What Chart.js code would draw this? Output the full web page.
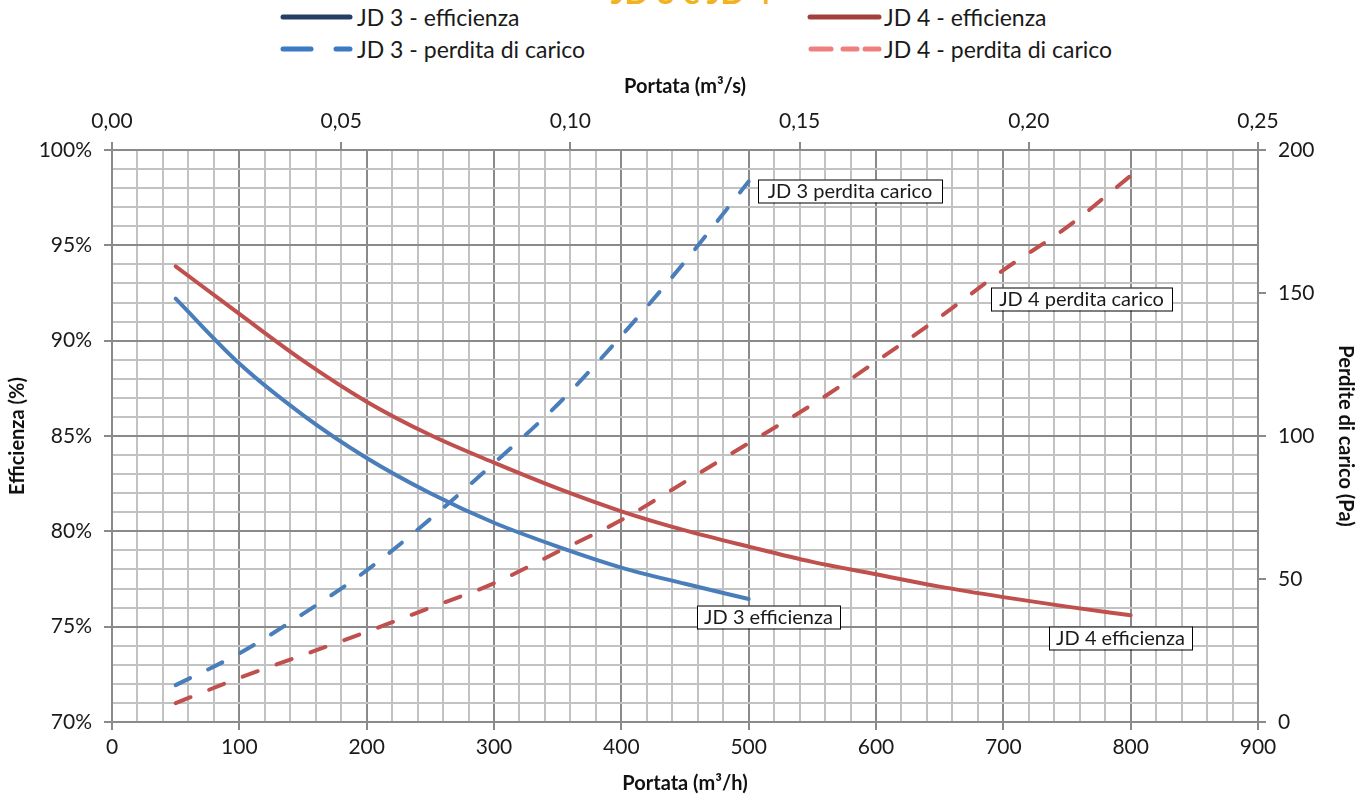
<!DOCTYPE html>
<html>
<head>
<meta charset="utf-8">
<script src="https://cdn.jsdelivr.net/npm/chart.js@4.4.1/dist/chart.umd.min.js"></script>
<style>
  html, body { margin:0; padding:0; background:#fff; width:1369px; height:796px; overflow:hidden; font-family: Lato, "Liberation Sans", sans-serif; }
  #wrap { position:relative; width:1369px; height:796px; }
  #chart { position:absolute; left:0; top:0; }
  #title { position:absolute; left:591px; width:200px; top:-26px; text-align:center; font-size:32px; font-weight:bold; color:#f2b21b; line-height:36px; white-space:nowrap; }
  .lg { position:absolute; height:28px; display:flex; align-items:center; font-size:23px; color:#1a1a1a; white-space:nowrap; }
  .lg svg { display:block; margin-right:2px; }
</style>
</head>
<body>
<div id="wrap">
  <div id="title">JD 3 e JD 4</div>
  <div class="lg" style="left:279px; top:3px;">
    <svg width="76" height="10"><line x1="4" y1="5" x2="71" y2="5" stroke="#243f66" stroke-width="5" stroke-linecap="round"/></svg>JD 3 - efficienza</div>
  <div class="lg" style="left:279px; top:35px;">
    <svg width="76" height="10"><line x1="4" y1="5" x2="32" y2="5" stroke="#3b79c2" stroke-width="5" stroke-linecap="round"/><line x1="57" y1="5" x2="71" y2="5" stroke="#3b79c2" stroke-width="5" stroke-linecap="round"/></svg>JD 3 - perdita di carico</div>
  <div class="lg" style="left:806px; top:3px;">
    <svg width="76" height="10"><line x1="4" y1="5" x2="73" y2="5" stroke="#a3403d" stroke-width="5" stroke-linecap="round"/></svg>JD 4 - efficienza</div>
  <div class="lg" style="left:806px; top:35px;">
    <svg width="76" height="10"><line x1="5" y1="5" x2="25" y2="5" stroke="#ef7f7f" stroke-width="5" stroke-linecap="round"/><line x1="37" y1="5" x2="51" y2="5" stroke="#ef7f7f" stroke-width="5" stroke-linecap="round"/><line x1="59" y1="5" x2="73" y2="5" stroke="#ef7f7f" stroke-width="5" stroke-linecap="round"/></svg>JD 4 - perdita di carico</div>
  <canvas id="chart" width="1369" height="796"></canvas>
</div>
<script>
// ---- data ----
const flowJD3 = [50, 100, 150, 200, 250, 300, 350, 400, 450, 500];             // m³/h
const effJD3  = [92.2, 88.8, 86.1, 83.85, 82.0, 80.45, 79.2, 78.1, 77.25, 76.45]; // %
const dpJD3   = [12.9, 24, 37.8, 53, 71, 90.5, 111, 135, 161, 189];              // Pa

const flowJD4 = [50, 100, 150, 200, 250, 300, 350, 400, 450, 500, 550, 600, 650, 700, 750, 800];
const effJD4  = [93.9, 91.4, 88.95, 86.8, 85.05, 83.6, 82.25, 81.05, 80.05, 79.2, 78.4, 77.75, 77.1, 76.55, 76.05, 75.6];
const dpJD4   = [6.6, 15.4, 23.4, 31.5, 40, 48.5, 59.5, 70.6, 84, 97.5, 111, 126, 141.5, 158, 173, 191];

const seriesNames = ['JD 3 - efficienza', 'JD 4 - efficienza', 'JD 3 - perdita di carico', 'JD 4 - perdita di carico'];

// tick ranges
const flowMin = 0, flowMax = 900, flowMinorStep = 20, flowMajorStep = 100;
const effMin = 70, effMax = 100, effMinorStep = 1, effMajorStep = 5;
const dpMin = 0, dpMax = 200, dpStep = 50;
const flowSecMin = 0, flowSecMax = 0.25, flowSecStep = 0.05;

// in-plot labels (anchored in data units)
const labelTexts = ['JD 3 perdita carico', 'JD 4 perdita carico', 'JD 3 efficienza', 'JD 4 efficienza'];
const labelFlow  = [507, 690, 459.5, 736];
const labelValue = [185.8, 148, 75.52, 74.42];
const labelAxis  = ['y2', 'y2', 'y', 'y'];
const labelWidth = [184, 181, 143, 143];

const pts = (xs, ys) => xs.map((x, i) => ({ x: x, y: ys[i] }));

const MAJOR = '#8a8a8a', MINOR = '#c2c2c2', TXT = '#1a1a1a';
const FONT = 'Lato, "Liberation Sans", sans-serif';

const labelPlugin = {
  id: 'boxLabels',
  afterDatasetsDraw(chart) {
    const ctx = chart.ctx;
    ctx.save();
    ctx.font = '20px ' + FONT;
    ctx.textBaseline = 'middle';
    ctx.textAlign = 'center';
    labelTexts.forEach((t, i) => {
      const px = Math.round(chart.scales.x.getPixelForValue(labelFlow[i]));
      const py = Math.round(chart.scales[labelAxis[i]].getPixelForValue(labelValue[i]));
      const w = labelWidth[i], h = 23;
      ctx.fillStyle = '#fff';
      ctx.fillRect(px, py - h / 2, w, h);
      ctx.strokeStyle = '#000';
      ctx.lineWidth = 1;
      ctx.strokeRect(px + 0.5, py - h / 2 + 0.5, w, h);
      ctx.fillStyle = TXT;
      ctx.fillText(t, px + w / 2, py + 1);
    });
    ctx.restore();
  }
};

const majorX = v => Math.abs(v % flowMajorStep) < 1e-6;
const majorY = v => Math.abs(v % effMajorStep) < 1e-6;

const common = { borderWidth: 4, pointRadius: 0, cubicInterpolationMode: 'monotone', fill: false, borderCapStyle: 'round' };

new Chart(document.getElementById('chart'), {
  type: 'line',
  data: {
    datasets: [
      Object.assign({ label: seriesNames[0], data: pts(flowJD3, effJD3), xAxisID: 'x', yAxisID: 'y', borderColor: '#4a7ebb' }, common),
      Object.assign({ label: seriesNames[1], data: pts(flowJD4, effJD4), xAxisID: 'x', yAxisID: 'y', borderColor: '#c0504d' }, common),
      Object.assign({ label: seriesNames[2], data: pts(flowJD3, dpJD3), xAxisID: 'x', yAxisID: 'y2', borderColor: '#4a7ebb', borderDash: [16, 20] }, common),
      Object.assign({ label: seriesNames[3], data: pts(flowJD4, dpJD4), xAxisID: 'x', yAxisID: 'y2', borderColor: '#c0504d', borderDash: [16, 20] }, common)
    ]
  },
  options: {
    responsive: false,
    animation: false,
    devicePixelRatio: 1,
    layout: { padding: { top: 70, left: 0, right: 0, bottom: 0 } },
    plugins: { legend: { display: false }, tooltip: { enabled: false }, title: { display: false } },
    scales: {
      x: {
        type: 'linear', position: 'bottom', min: flowMin, max: flowMax,
        ticks: { stepSize: flowMinorStep, autoSkip: false, maxRotation: 0, padding: 5, color: TXT,
                 font: { family: FONT, size: 21 }, callback: v => majorX(v) ? String(v) : '' },
        grid: { color: c => (c.tick && majorX(c.tick.value)) ? MAJOR : MINOR, lineWidth: 2, tickLength: 8,
                tickColor: c => (c.tick && majorX(c.tick.value)) ? MAJOR : 'rgba(0,0,0,0)' },
        border: { color: MAJOR, width: 2 },
        title: { display: true, text: 'Portata (m³/h)', color: '#111', font: { family: FONT, size: 20, weight: 'bold' }, padding: { top: 0, bottom: 0 } },
        afterFit: s => { s.height = 74; }
      },
      x2: {
        type: 'linear', position: 'top', min: flowSecMin, max: flowSecMax,
        ticks: { stepSize: flowSecStep, autoSkip: false, maxRotation: 0, padding: 8, color: TXT,
                 font: { family: FONT, size: 21 }, callback: v => v.toFixed(2).replace('.', ',') },
        grid: { drawOnChartArea: false, lineWidth: 2, tickLength: 8, tickColor: MAJOR },
        border: { display: false },
        title: { display: true, text: 'Portata (m³/s)', color: '#111', font: { family: FONT, size: 20, weight: 'bold' }, padding: { top: 5, bottom: 0 } },
        afterFit: s => { s.height = 80; }
      },
      y: {
        type: 'linear', position: 'left', min: effMin, max: effMax,
        ticks: { stepSize: effMinorStep, autoSkip: false, padding: 12, color: TXT,
                 font: { family: FONT, size: 21 }, callback: v => majorY(v) ? v + '%' : '' },
        grid: { color: c => (c.tick && majorY(c.tick.value)) ? MAJOR : MINOR, lineWidth: 2, tickLength: 8,
                tickColor: c => (c.tick && majorY(c.tick.value)) ? MAJOR : 'rgba(0,0,0,0)' },
        border: { color: MAJOR, width: 2 },
        title: { display: true, text: 'Efficienza (%)', color: '#111', font: { family: FONT, size: 20, weight: 'bold' }, padding: { top: 6, bottom: 0 } },
        afterFit: s => { s.width = 112; }
      },
      y2: {
        type: 'linear', position: 'right', min: dpMin, max: dpMax,
        ticks: { stepSize: dpStep, autoSkip: false, padding: 12, color: TXT,
                 font: { family: FONT, size: 21 }, callback: v => String(v) },
        grid: { drawOnChartArea: false, lineWidth: 2, tickLength: 8, tickColor: MAJOR },
        border: { color: MAJOR, width: 2 },
        title: { display: true, text: 'Perdite di carico (Pa)', color: '#111', font: { family: FONT, size: 20, weight: 'bold' }, padding: { top: 12, bottom: 0 } },
        afterFit: s => { s.width = 111; }
      }
    }
  },
  plugins: [labelPlugin]
});
</script>
</body>
</html>
